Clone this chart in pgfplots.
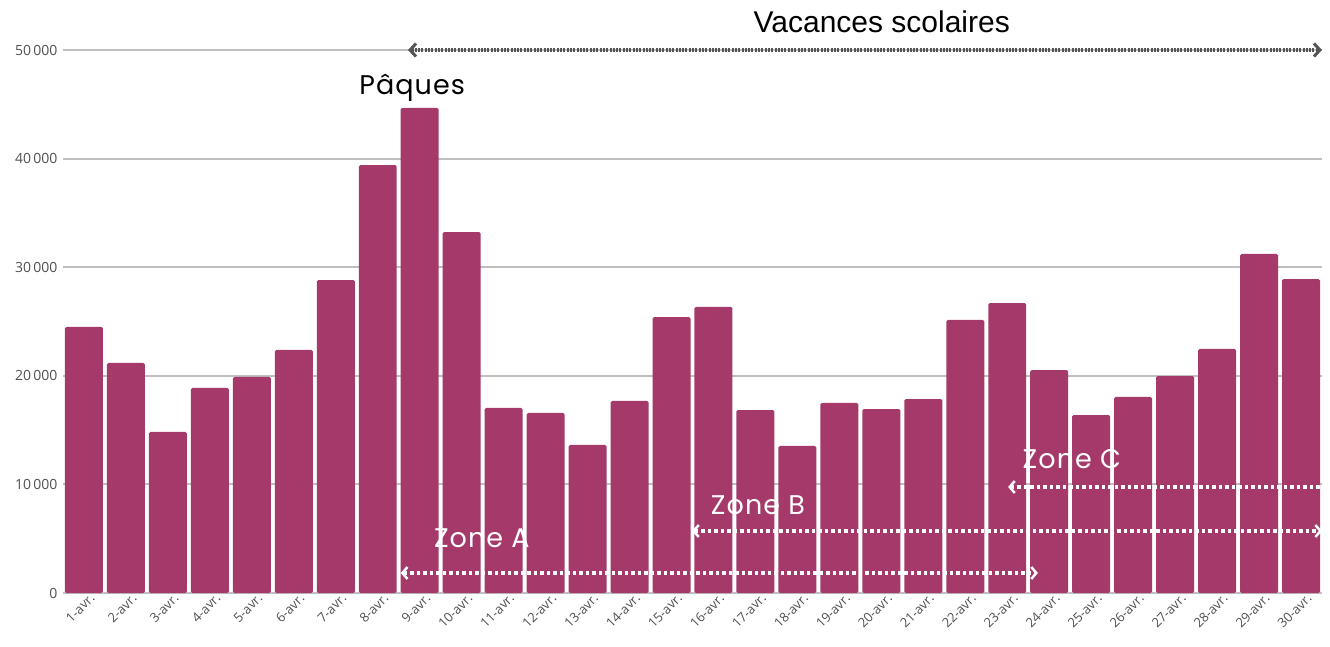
\documentclass[border=0pt]{standalone}
\usepackage{fontspec}
\setmainfont{Liberation Sans}
\newfontfamily\popp[LetterSpace=4]{Poppins}
\newfontfamily\tickf{Open Sans}
\usepackage{pgfplots}
\pgfplotsset{compat=1.18}
\usetikzlibrary{arrows.meta}
\definecolor{barc}{HTML}{A4396A}
\definecolor{gridc}{HTML}{BFBFBF}
\definecolor{tickc}{HTML}{505050}
\definecolor{vac}{HTML}{555555}
\begin{document}
\begin{tikzpicture}
\begin{axis}[
  at={(0,0)}, anchor=south west,
  scale only axis, width=1259pt, height=543pt,
  xmin=0.5, xmax=30.5, ymin=0, ymax=50000,
  axis line style={draw=none},
  major tick length=0pt,
  scaled y ticks=false,
  ymajorgrids, grid style={gridc, line width=2pt},
  ytick={0,10000,20000,30000,40000,50000},
  yticklabels={0,10\,000,20\,000,30\,000,40\,000,50\,000},
  yticklabel style={font=\tickf\fontsize{14}{14}\selectfont, text=tickc, xshift=-2pt},
  xtick={1,...,30},
  xticklabels={1-avr.,2-avr.,3-avr.,4-avr.,5-avr.,6-avr.,7-avr.,8-avr.,9-avr.,10-avr.,11-avr.,12-avr.,13-avr.,14-avr.,15-avr.,16-avr.,17-avr.,18-avr.,19-avr.,20-avr.,21-avr.,22-avr.,23-avr.,24-avr.,25-avr.,26-avr.,27-avr.,28-avr.,29-avr.,30-avr.},
  xticklabel style={rotate=45, anchor=north east, font=\tickf\fontsize{13}{13}\selectfont, text=tickc, xshift=5pt, yshift=-2pt, inner sep=1pt},
  clip=false,
]
\addplot[ybar, bar width=0.905, fill=barc, draw=none, rounded corners=1.5pt] coordinates {
(1,24500) (2,21180) (3,14830) (4,18880) (5,19890) (6,22380) (7,28820) (8,39410) (9,44660) (10,33240)
(11,17040) (12,16580) (13,13630) (14,17680) (15,25410) (16,26340) (17,16850) (18,13540) (19,17500) (20,16940)
(21,17860) (22,25140) (23,26700) (24,20530) (25,16390) (26,18050) (27,19980) (28,22470) (29,31220) (30,28910)
};
% Vacances scolaires arrow
\draw[vac, line width=4pt, dash pattern=on 2pt off 1.3pt,
  {Straight Barb[length=6pt,width=13pt,line width=3pt]}-{Straight Barb[length=6pt,width=13pt,line width=3pt]}]
  (axis cs:8.72,50000) -- (axis cs:30.5,50000);
\node[font=\fontsize{30}{30}\selectfont, text=black] at (axis cs:20.01,52580) {Vacances scolaires};
\node[font=\popp\fontsize{27}{27}\selectfont, text=black] at (axis cs:8.82,46500) {Pâques};
% Zones
\draw[white, line width=3.5pt, dash pattern=on 3.5pt off 3pt,
  {Straight Barb[length=5pt,width=12pt,line width=2.5pt]}-{Straight Barb[length=5pt,width=12pt,line width=2.5pt]}]
  (axis cs:8.55,1842) -- (axis cs:23.73,1842);
\draw[white, line width=3.5pt, dash pattern=on 3.5pt off 3pt,
  {Straight Barb[length=5pt,width=12pt,line width=2.5pt]}-{Straight Barb[length=5pt,width=12pt,line width=2.5pt]}]
  (axis cs:15.49,5709) -- (axis cs:30.5,5709);
\draw[white, line width=3.5pt, dash pattern=on 3.5pt off 3pt,
  {Straight Barb[length=5pt,width=12pt,line width=2.5pt]}-]
  (axis cs:23.02,9760) -- (axis cs:30.5,9760);
\node[font=\popp\fontsize{27}{27}\selectfont, text=white] at (axis cs:10.48,5065) {Zone A};
\node[font=\popp\fontsize{27}{27}\selectfont, text=white] at (axis cs:17.06,8103) {Zone B};
\node[font=\popp\fontsize{27}{27}\selectfont, text=white] at (axis cs:24.54,12339) {Zone C};
\end{axis}
\pgfresetboundingbox
\path[use as bounding box] (-63pt,-53pt) rectangle (1267pt,593pt);
\end{tikzpicture}
\end{document}
